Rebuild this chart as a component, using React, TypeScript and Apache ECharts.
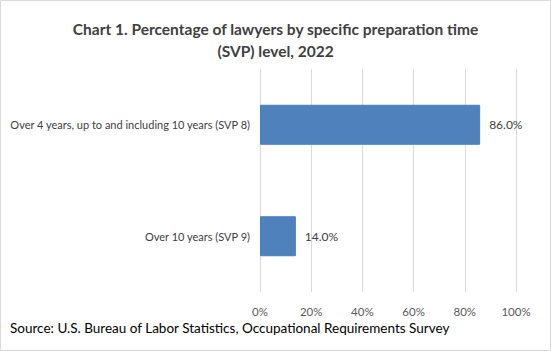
import React, { useEffect, useRef } from "react";
import * as echarts from "echarts";

const categories = [
  "Over 4 years, up to and including 10 years (SVP 8)",
  "Over 10 years (SVP 9)",
];
const values = [86.0, 14.0];
const titleText = "Chart 1. Percentage of lawyers by specific preparation time\n(SVP) level, 2022";
const sourceText = "Source: U.S. Bureau of Labor Statistics, Occupational Requirements Survey";

const FONT = "Lato, 'Open Sans', sans-serif";

export default function App() {
  const ref = useRef<HTMLDivElement>(null);
  useEffect(() => {
    if (!ref.current) return;
    const chart = echarts.init(ref.current, undefined, { renderer: "svg" });
    chart.setOption({
      animation: false,
      backgroundColor: "#ffffff",
      textStyle: { fontFamily: FONT },
      title: {
        text: titleText,
        left: "center",
        top: 13,
        textStyle: {
          fontFamily: FONT,
          fontSize: 15.5,
          fontWeight: "bold",
          color: "#404040",
          lineHeight: 22,
        },
      },
      grid: { left: 260, right: 35, top: 69, bottom: 59, containLabel: false },
      xAxis: {
        type: "value",
        min: 0,
        max: 100,
        interval: 20,
        axisLine: { show: false },
        axisTick: { show: false },
        splitLine: { show: true, lineStyle: { color: "#d9d9d9", width: 1 } },
        axisLabel: {
          formatter: "{value}%",
          color: "#595959",
          fontFamily: FONT,
          fontSize: 11.5,
          margin: 13,
        },
      },
      yAxis: {
        type: "category",
        data: categories,
        inverse: true,
        axisLine: { show: false },
        axisTick: { show: false },
        axisLabel: {
          color: "#404040",
          fontFamily: FONT,
          fontSize: 11,
          margin: 10,
        },
      },
      series: [
        {
          type: "bar",
          data: values,
          barWidth: 40,
          itemStyle: { color: "#4f81bd", borderColor: "#4a7ebb", borderWidth: 1 },
          label: {
            show: true,
            position: "right",
            distance: 9,
            formatter: (p: any) => p.value.toFixed(1) + "%",
            color: "#404040",
            fontFamily: FONT,
            fontSize: 12,
          },
        },
      ],
      graphic: [
        {
          type: "text",
          left: 10,
          top: 321,
          style: {
            text: sourceText,
            fill: "#000000",
            font: `13.5px ${FONT}`,
          },
        },
        {
          type: "rect",
          shape: { x: 0.5, y: 0.5, width: 550, height: 350 },
          style: { fill: "none", stroke: "#d9d9d9", lineWidth: 1 },
          silent: true,
        },
      ],
    });
    return () => chart.dispose();
  }, []);
  return (
    <div
      ref={ref}
      style={{ position: "fixed", left: 0, top: 0, width: 551, height: 351 }}
    />
  );
}
